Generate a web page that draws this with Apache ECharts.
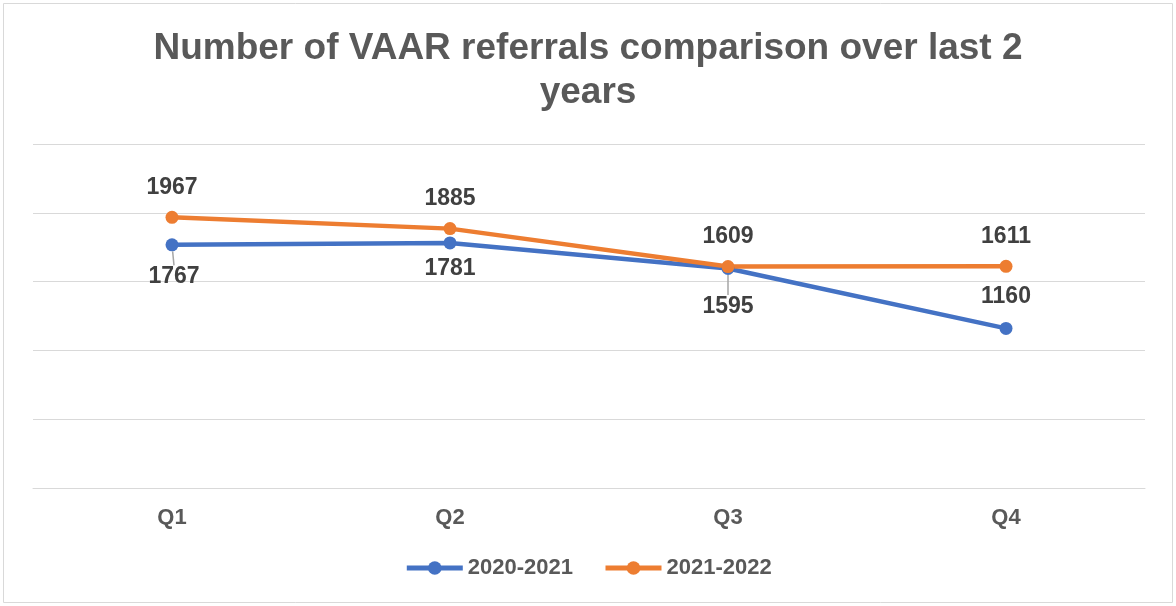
<!DOCTYPE html>
<html>
<head>
<meta charset="utf-8">
<script src="https://cdn.jsdelivr.net/npm/echarts@6/dist/echarts.min.js"></script>
<style>
  html, body { margin: 0; padding: 0; background: #fff; }
  #chart { width: 1176px; height: 606px; }
</style>
</head>
<body>
<div id="chart"></div>
<script>
// data
var quarters = ['Q1', 'Q2', 'Q3', 'Q4'];
var referrals2020 = [1767, 1781, 1595, 1160];
var referrals2021 = [1967, 1885, 1609, 1611];

var myChart = echarts.init(document.getElementById('chart'));

var FONT = 'Liberation Sans, Arial, sans-serif';
var labelFont = {
    fontFamily: FONT,
    fontWeight: 'bold',
    fontSize: 23,
    color: '#404040'
};

// blue labels sit under the line except the last one,
// the Q1 and Q3 ones are pushed away with a small leader line
var blueData = referrals2020.map(function (v, i) {
    var last = i === referrals2020.length - 1;
    var leader = i === 0 || i === 2;
    return {
        value: v,
        label: {
            position: last ? 'top' : 'bottom',
            distance: last ? 14 : 8
        },
        labelLine: { show: leader }
    };
});

var option = {
    animation: false,
    title: {
        text: 'Number of VAAR referrals comparison over last 2\nyears',
        left: 'center',
        top: 22,
        textStyle: {
            fontFamily: FONT,
            fontWeight: 'bold',
            fontSize: 37,
            lineHeight: 44,
            color: '#595959'
        }
    },
    graphic: [{
        type: 'rect',
        shape: { x: 3.5, y: 3.5, width: 1169, height: 599 },
        style: { fill: 'none', stroke: '#d9d9d9', lineWidth: 1 },
        silent: true
    }],
    legend: {
        bottom: 22,
        left: 'center',
        itemWidth: 56,
        itemHeight: 17,
        itemGap: 30,
        lineStyle: { width: 5 },
        textStyle: {
            fontFamily: FONT,
            fontWeight: 'bold',
            fontSize: 22,
            color: '#595959'
        },
        data: ['2020-2021', '2021-2022']
    },
    grid: { top: 144, bottom: 118, left: 33, right: 31 },
    xAxis: {
        type: 'category',
        data: quarters,
        boundaryGap: true,
        axisLine: { show: true, lineStyle: { color: '#d9d9d9', width: 1 } },
        axisTick: { show: false },
        axisLabel: {
            margin: 19,
            fontFamily: FONT,
            fontWeight: 'bold',
            fontSize: 22,
            color: '#595959'
        }
    },
    yAxis: {
        type: 'value',
        min: 0,
        max: 2500,
        interval: 500,
        axisLabel: { show: false },
        axisLine: { show: false },
        axisTick: { show: false },
        splitLine: { lineStyle: { color: '#d9d9d9', width: 1 } }
    },
    series: [
        {
            name: '2020-2021',
            type: 'line',
            data: blueData,
            symbol: 'circle',
            symbolSize: 13,
            lineStyle: { width: 4.5, color: '#4472C4' },
            itemStyle: { color: '#4472C4' },
            label: Object.assign({ show: true }, labelFont),
            labelLine: { show: false, lineStyle: { color: '#a6a6a6', width: 1.5 } },
            labelLayout: function (params) {
                if (params.dataIndex === 0) return { dy: 6, dx: 2 };
                if (params.dataIndex === 2) return { dy: 12 };
                return {};
            }
        },
        {
            name: '2021-2022',
            type: 'line',
            data: referrals2021,
            symbol: 'circle',
            symbolSize: 13,
            lineStyle: { width: 4.5, color: '#ED7D31' },
            itemStyle: { color: '#ED7D31' },
            label: Object.assign({ show: true, position: 'top', distance: 12 }, labelFont)
        }
    ]
};

myChart.setOption(option);
</script>
</body>
</html>
